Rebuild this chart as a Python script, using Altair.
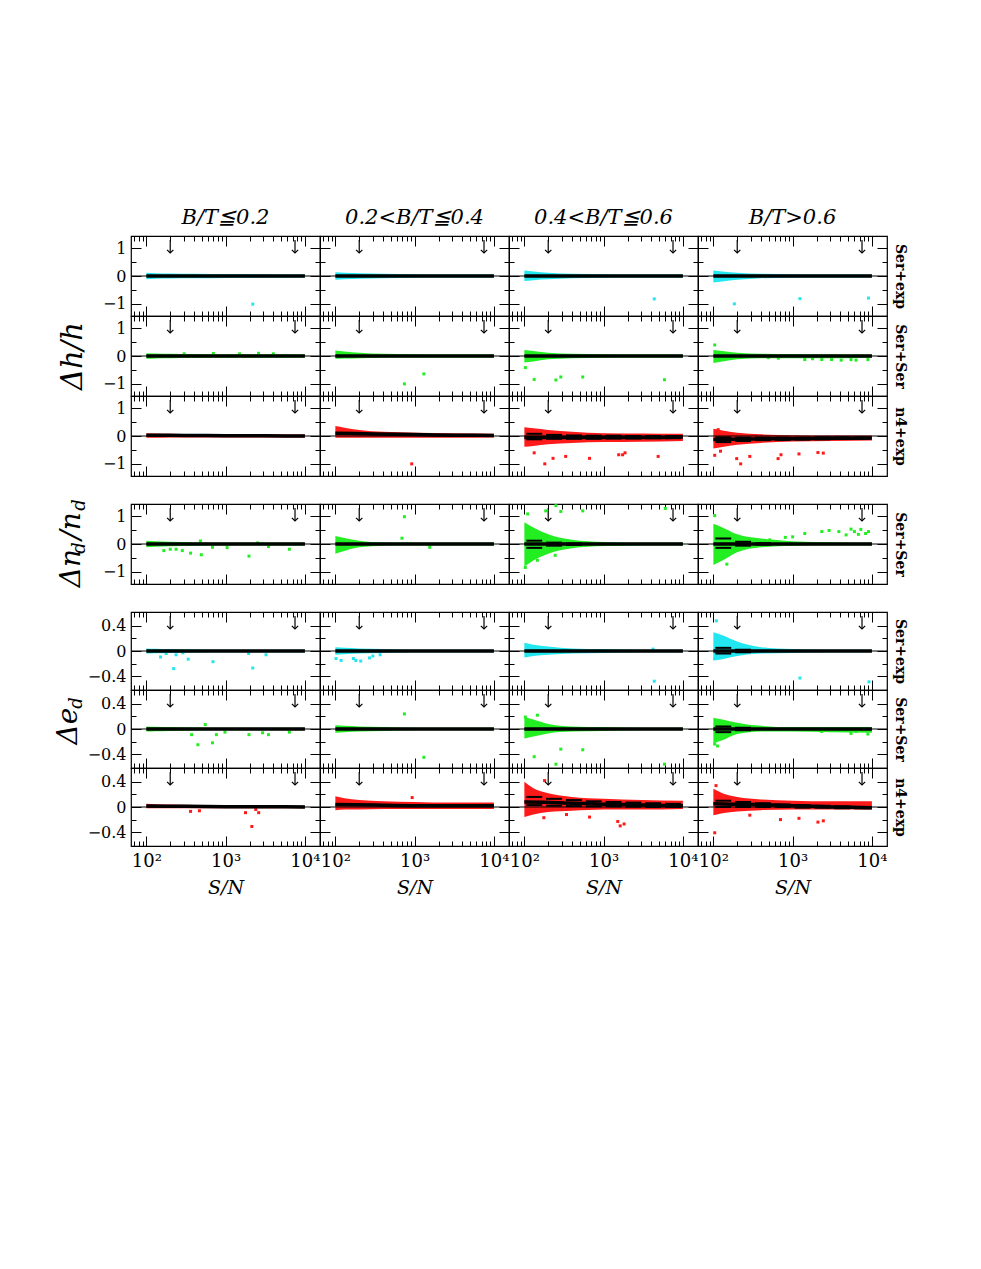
import altair as alt
import pandas as pd

SERIF = "DejaVu Serif"

# ---------------- axes / layout values ----------------
SN_DOMAIN = [64, 15500]
SN_MAJOR = [100, 1000, 10000]
SN_MINOR = [70, 80, 90, 200, 300, 400, 500, 600, 700, 800, 900,
            2000, 3000, 4000, 5000, 6000, 7000, 8000, 9000]
X_TICK_LABELS = ["10²", "10³", "10⁴"]
ARROW_SN = [200, 7500]

DH_DOMAIN = [-1.45, 1.45]
DH_MAJOR = [-1, 0, 1]
DH_MINOR = [-0.5, 0.5]
DE_DOMAIN = [-0.62, 0.62]
DE_MAJOR = [-0.4, 0, 0.4]
DE_MINOR = [-0.2, 0.2]

COL_TITLES = ["B/T≦0.2", "0.2<B/T≦0.4", "0.4<B/T≦0.6", "B/T>0.6"]
ROW_LABELS = ["Ser+exp", "Ser+Ser", "n4+exp", "Ser+Ser", "Ser+exp", "Ser+Ser", "n4+exp"]
CYAN, GREEN, RED = "#22e6f0", "#22ee22", "#ff1a1a"

# envelope of the dense point cloud, sampled at these S/N
BAND_SN = [100, 130, 200, 400, 1000, 3000, 10000]
# running median sampled at these S/N
MED_SN = [100, 178, 316, 562, 1000, 1778, 3162, 5623, 10000]
# S/N bins for the percentile segments
BIN_START = [106, 188, 335, 596, 1060, 1885, 3350, 5960]
BIN_END = [168, 299, 531, 944, 1680, 2985, 5310, 9440]

ZERO_MED = [0, 0, 0, 0, 0, 0, 0, 0, 0]

# ---------- row 1 : Delta h / h , Ser+exp ----------
DH_SEREXP_HI = [[0.12, 0.10, 0.09, 0.08, 0.07, 0.06, 0.05],
                [0.14, 0.12, 0.10, 0.08, 0.06, 0.05, 0.05],
                [0.20, 0.16, 0.12, 0.08, 0.06, 0.05, 0.05],
                [0.20, 0.16, 0.12, 0.08, 0.06, 0.05, 0.05]]
DH_SEREXP_LO = [[-0.12, -0.10, -0.09, -0.08, -0.07, -0.06, -0.05],
                [-0.14, -0.12, -0.10, -0.08, -0.06, -0.05, -0.05],
                [-0.18, -0.15, -0.12, -0.08, -0.06, -0.05, -0.05],
                [-0.24, -0.20, -0.14, -0.08, -0.06, -0.05, -0.05]]
DH_SEREXP_MED = [ZERO_MED, ZERO_MED, ZERO_MED, ZERO_MED]
DH_SEREXP_SPHI = [[], [], [], []]
DH_SEREXP_SPLO = [[], [], [], []]
DH_SEREXP_OSN = [[2200], [], [4350], [184, 1236, 9060]]
DH_SEREXP_OVAL = [[-1.02], [], [-0.83], [-1.01, -0.82, -0.80]]

# ---------- row 2 : Delta h / h , Ser+Ser ----------
DH_SERSER_HI = [[0.10, 0.09, 0.08, 0.07, 0.06, 0.06, 0.05],
                [0.20, 0.16, 0.12, 0.08, 0.06, 0.05, 0.05],
                [0.22, 0.18, 0.12, 0.08, 0.06, 0.05, 0.05],
                [0.22, 0.18, 0.12, 0.08, 0.07, 0.06, 0.05]]
DH_SERSER_LO = [[-0.10, -0.09, -0.08, -0.07, -0.06, -0.06, -0.05],
                [-0.10, -0.09, -0.08, -0.06, -0.05, -0.05, -0.05],
                [-0.24, -0.20, -0.12, -0.08, -0.06, -0.05, -0.05],
                [-0.25, -0.20, -0.12, -0.08, -0.08, -0.08, -0.06]]
DH_SERSER_MED = [ZERO_MED, ZERO_MED, ZERO_MED, ZERO_MED]
DH_SERSER_SPHI = [[], [], [], []]
DH_SERSER_SPLO = [[], [], [], []]
DH_SERSER_OSN = [[300, 700, 1500, 2600, 4000],
                 [1308, 743],
                 [103, 133, 250, 288, 545, 5850],
                 [104, 493, 660, 1423, 1780, 2333, 3100, 4100, 5450, 6300, 8900]]
DH_SERSER_OVAL = [[0.08, 0.09, 0.08, 0.10, 0.08],
                  [-0.65, -1.01],
                  [-0.42, -0.85, -0.87, -0.76, -0.76, -0.86],
                  [0.40, -0.06, -0.08, -0.13, -0.10, -0.13, -0.13, -0.15, -0.13, -0.15, -0.13]]

# ---------- row 3 : Delta h / h , n4+exp ----------
DH_N4EXP_HI = [[0.10, 0.09, 0.08, 0.07, 0.06, 0.05, 0.05],
               [0.36, 0.30, 0.22, 0.15, 0.12, 0.10, 0.08],
               [0.32, 0.28, 0.22, 0.15, 0.10, 0.09, 0.08],
               [0.26, 0.20, 0.12, 0.06, 0.03, 0.02, 0.02]]
DH_N4EXP_LO = [[-0.06, -0.06, -0.05, -0.05, -0.05, -0.05, -0.05],
               [-0.06, -0.06, -0.06, -0.06, -0.06, -0.06, -0.05],
               [-0.39, -0.36, -0.30, -0.25, -0.22, -0.21, -0.18],
               [-0.45, -0.40, -0.32, -0.25, -0.20, -0.18, -0.16]]
DH_N4EXP_MED = [[0.03, 0.03, 0.02, 0.02, 0.01, 0.01, 0.01, 0.0, 0.0],
                [0.10, 0.09, 0.07, 0.06, 0.05, 0.04, 0.03, 0.03, 0.02],
                [-0.05, -0.05, -0.05, -0.05, -0.05, -0.05, -0.05, -0.05, -0.04],
                [-0.13, -0.12, -0.11, -0.10, -0.10, -0.09, -0.08, -0.08, -0.07]]
DH_N4EXP_SPHI = [[], [],
                 [0.08, 0.04, 0.02, 0.01, 0.01, 0.0, 0.0, 0.0],
                 [-0.05, -0.06, -0.06, -0.06, -0.06, -0.05, -0.05, -0.05]]
DH_N4EXP_SPLO = [[], [],
                 [-0.12, -0.10, -0.10, -0.10, -0.09, -0.09, -0.08, -0.08],
                 [-0.22, -0.18, -0.15, -0.14, -0.13, -0.12, -0.11, -0.10]]
DH_N4EXP_OSN = [[], [919],
                [133, 181, 230, 332, 664, 1549, 1735, 1862, 4870],
                [104, 123, 197, 221, 288, 655, 713, 1202, 2085, 2436, 115]]
DH_N4EXP_OVAL = [[], [-1.01],
                 [-0.61, -1.01, -0.81, -0.74, -0.81, -0.68, -0.68, -0.61, -0.74],
                 [-0.70, -0.55, -0.82, -1.01, -0.74, -0.82, -0.68, -0.65, -0.60, -0.62, 0.23]]

# ---------- row 4 : Delta n_d / n_d , Ser+Ser ----------
DN_SERSER_HI = [[0.12, 0.10, 0.08, 0.06, 0.05, 0.05, 0.05],
                [0.29, 0.22, 0.12, 0.06, 0.05, 0.05, 0.05],
                [0.79, 0.60, 0.35, 0.15, 0.07, 0.05, 0.05],
                [0.73, 0.60, 0.35, 0.20, 0.10, 0.06, 0.05]]
DN_SERSER_LO = [[-0.12, -0.10, -0.08, -0.06, -0.05, -0.05, -0.05],
                [-0.35, -0.25, -0.12, -0.06, -0.05, -0.05, -0.05],
                [-0.82, -0.60, -0.35, -0.15, -0.07, -0.05, -0.05],
                [-0.76, -0.60, -0.30, -0.12, -0.06, -0.05, -0.05]]
DN_SERSER_MED = [ZERO_MED, ZERO_MED, ZERO_MED, ZERO_MED]
DN_SERSER_SPHI = [[], [],
                  [0.12, 0.05, 0.02, 0.0, 0.0, 0.0, 0.0, 0.0],
                  [0.20, 0.08, 0.03, 0.0, 0.0, 0.0, 0.0, 0.0]]
DN_SERSER_SPLO = [[], [],
                  [-0.14, -0.06, -0.03, 0.0, 0.0, 0.0, 0.0, 0.0],
                  [-0.14, -0.06, -0.02, 0.0, 0.0, 0.0, 0.0, 0.0]]
DN_SERSER_OSN = [[166, 200, 237, 284, 361, 480, 493, 683, 1043, 1970, 2540, 3470, 6370],
                 [743, 692, 1550],
                 [103, 110, 146, 186, 245, 250, 288, 545, 6000],
                 [104, 125, 148, 515, 809, 1000, 1423, 2333, 2884, 3828, 4730, 5450,
                  6020, 6750, 7240, 8320, 9060]]
DN_SERSER_OVAL = [[-0.24, -0.19, -0.19, -0.24, -0.33, 0.11, -0.39, -0.12, -0.13, -0.44, 0.04, -0.09, -0.19],
                  [0.99, 0.21, -0.12],
                  [-0.85, 1.09, -0.59, 1.20, -0.41, 1.39, 1.18, 1.20, 1.29],
                  [1.03, -0.53, -0.73, 0.15, 0.24, 0.26, 0.38, 0.45, 0.49, 0.45, 0.33, 0.54,
                   0.45, 0.35, 0.53, 0.38, 0.45]]

# ---------- row 5 : Delta e_d , Ser+exp ----------
DE_SEREXP_HI = [[0.04, 0.035, 0.03, 0.025, 0.02, 0.02, 0.02],
                [0.06, 0.05, 0.04, 0.03, 0.02, 0.02, 0.02],
                [0.13, 0.10, 0.07, 0.04, 0.03, 0.02, 0.02],
                [0.30, 0.25, 0.15, 0.06, 0.03, 0.02, 0.02]]
DE_SEREXP_LO = [[-0.04, -0.035, -0.03, -0.025, -0.02, -0.02, -0.02],
                [-0.06, -0.05, -0.04, -0.03, -0.02, -0.02, -0.02],
                [-0.105, -0.08, -0.06, -0.04, -0.03, -0.02, -0.02],
                [-0.15, -0.13, -0.08, -0.04, -0.03, -0.02, -0.02]]
DE_SEREXP_MED = [ZERO_MED, ZERO_MED, ZERO_MED, ZERO_MED]
DE_SEREXP_SPHI = [[], [], [],
                  [0.05, 0.02, 0.0, 0.0, 0.0, 0.0, 0.0, 0.0]]
DE_SEREXP_SPLO = [[], [], [],
                  [-0.04, -0.02, 0.0, 0.0, 0.0, 0.0, 0.0, 0.0]]
DE_SEREXP_OSN = [[151, 178, 221, 237, 288, 337, 692, 1950, 2200, 3230],
                 [102, 118, 169, 181, 209, 269, 297, 367],
                 [4350, 4200],
                 [109, 104, 113, 120, 140, 1236, 9190]]
DE_SEREXP_OVAL = [[-0.095, -0.04, -0.28, -0.06, -0.03, -0.13, -0.17, -0.04, -0.27, -0.06],
                  [-0.12, -0.15, -0.12, -0.15, -0.16, -0.11, -0.08, -0.06],
                  [-0.48, 0.03],
                  [0.48, -0.12, 0.25, 0.17, 0.20, -0.43, -0.49]]

# ---------- row 6 : Delta e_d , Ser+Ser ----------
DE_SERSER_HI = [[0.04, 0.035, 0.03, 0.025, 0.02, 0.02, 0.02],
                [0.06, 0.05, 0.04, 0.03, 0.02, 0.02, 0.02],
                [0.19, 0.15, 0.08, 0.04, 0.03, 0.02, 0.02],
                [0.18, 0.15, 0.10, 0.05, 0.03, 0.03, 0.03]]
DE_SERSER_LO = [[-0.04, -0.035, -0.03, -0.025, -0.02, -0.02, -0.02],
                [-0.06, -0.05, -0.04, -0.03, -0.02, -0.02, -0.02],
                [-0.15, -0.12, -0.07, -0.04, -0.03, -0.02, -0.02],
                [-0.23, -0.18, -0.08, -0.04, -0.04, -0.05, -0.06]]
DE_SERSER_MED = [ZERO_MED, ZERO_MED, ZERO_MED, ZERO_MED]
DE_SERSER_SPHI = [[], [], [],
                  [0.04, 0.02, 0.0, 0.0, 0.0, 0.0, 0.0, 0.0]]
DE_SERSER_SPLO = [[], [], [],
                  [-0.05, -0.02, 0.0, 0.0, 0.0, 0.0, 0.0, 0.0]]
DE_SERSER_OSN = [[372, 447, 553, 683, 764, 980, 1970, 2925, 3470, 6370],
                 [743, 1308],
                 [103, 133, 146, 250, 288, 545, 5850],
                 [104, 113, 2333, 5450, 6300, 8900]]
DE_SERSER_OVAL = [[-0.09, -0.25, 0.07, -0.22, -0.09, -0.05, -0.09, -0.06, -0.09, -0.05],
                  [0.24, -0.45],
                  [0.19, -0.44, 0.22, -0.56, -0.32, -0.33, -0.56],
                  [-0.24, -0.27, -0.04, -0.07, -0.04, -0.08]]

# ---------- row 7 : Delta e_d , n4+exp ----------
DE_N4EXP_HI = [[0.05, 0.045, 0.04, 0.03, 0.025, 0.02, 0.02],
               [0.17, 0.14, 0.11, 0.09, 0.08, 0.07, 0.07],
               [0.40, 0.30, 0.22, 0.16, 0.13, 0.11, 0.10],
               [0.29, 0.22, 0.16, 0.12, 0.10, 0.09, 0.09]]
DE_N4EXP_LO = [[-0.02, -0.02, -0.02, -0.02, -0.02, -0.02, -0.02],
               [-0.05, -0.04, -0.04, -0.03, -0.03, -0.03, -0.03],
               [-0.16, -0.12, -0.08, -0.06, -0.04, -0.04, -0.03],
               [-0.13, -0.10, -0.07, -0.05, -0.04, -0.04, -0.04]]
DE_N4EXP_MED = [[0.015, 0.012, 0.01, 0.008, 0.005, 0.005, 0.003, 0.002, 0.0],
                [0.04, 0.035, 0.03, 0.025, 0.02, 0.02, 0.02, 0.02, 0.02],
                [0.08, 0.075, 0.065, 0.055, 0.045, 0.04, 0.03, 0.025, 0.02],
                [0.05, 0.045, 0.04, 0.03, 0.02, 0.01, 0.0, -0.005, -0.01]]
DE_N4EXP_SPHI = [[], [],
                 [0.16, 0.13, 0.11, 0.09, 0.08, 0.07, 0.06, 0.05],
                 [0.10, 0.08, 0.06, 0.04, 0.03, 0.02, 0.01, 0.0]]
DE_N4EXP_SPLO = [[], [],
                 [0.03, 0.02, 0.015, 0.01, 0.01, 0.005, 0.0, 0.0],
                 [0.0, 0.0, 0.0, 0.0, -0.01, -0.01, -0.02, -0.02]]
DE_N4EXP_OSN = [[361, 467, 1780, 2140, 2612, 2400],
                [931],
                [176, 180, 340, 664, 1507, 1618, 1811],
                [104, 108, 288, 703, 1202, 2085, 2436]]
DE_N4EXP_OVAL = [[-0.07, -0.06, -0.09, -0.31, -0.09, -0.04],
                 [0.15],
                 [-0.17, 0.42, -0.12, -0.16, -0.23, -0.30, -0.27],
                 [-0.41, 0.34, -0.13, -0.20, -0.18, -0.24, -0.22]]

Y_TITLES = ["Δh/h", "Δn", "d", "/n", "d", "Δe", "d"]

ROWS = [
    (DH_SEREXP_HI, DH_SEREXP_LO, DH_SEREXP_MED, DH_SEREXP_SPHI, DH_SEREXP_SPLO, DH_SEREXP_OSN, DH_SEREXP_OVAL, CYAN, "h"),
    (DH_SERSER_HI, DH_SERSER_LO, DH_SERSER_MED, DH_SERSER_SPHI, DH_SERSER_SPLO, DH_SERSER_OSN, DH_SERSER_OVAL, GREEN, "h"),
    (DH_N4EXP_HI, DH_N4EXP_LO, DH_N4EXP_MED, DH_N4EXP_SPHI, DH_N4EXP_SPLO, DH_N4EXP_OSN, DH_N4EXP_OVAL, RED, "h"),
    (DN_SERSER_HI, DN_SERSER_LO, DN_SERSER_MED, DN_SERSER_SPHI, DN_SERSER_SPLO, DN_SERSER_OSN, DN_SERSER_OVAL, GREEN, "h"),
    (DE_SEREXP_HI, DE_SEREXP_LO, DE_SEREXP_MED, DE_SEREXP_SPHI, DE_SEREXP_SPLO, DE_SEREXP_OSN, DE_SEREXP_OVAL, CYAN, "e"),
    (DE_SERSER_HI, DE_SERSER_LO, DE_SERSER_MED, DE_SERSER_SPHI, DE_SERSER_SPLO, DE_SERSER_OSN, DE_SERSER_OVAL, GREEN, "e"),
    (DE_N4EXP_HI, DE_N4EXP_LO, DE_N4EXP_MED, DE_N4EXP_SPHI, DE_N4EXP_SPLO, DE_N4EXP_OSN, DE_N4EXP_OVAL, RED, "e"),
]
ROW_HEIGHTS = [80, 80, 80, 80, 78, 78, 78]
GAP_H = 28
PANEL_W = 189

XLABEL_EXPR = ("datum.value == %d ? '%s' : datum.value == %d ? '%s' : '%s'"
               % (SN_MAJOR[0], X_TICK_LABELS[0], SN_MAJOR[1], X_TICK_LABELS[1], X_TICK_LABELS[2]))


def x_axis(orient, values, size, labels=False, title=""):
    return alt.Axis(orient=orient, values=values, tickSize=size, offset=-size,
                    domain=False, grid=False, labels=labels, labelFlush=False,
                    labelOverlap=False, labelExpr=XLABEL_EXPR, labelFont=SERIF,
                    labelFontSize=18, labelColor="black", labelPadding=6,
                    tickColor="black", tickWidth=1, title=title, titleFont=SERIF,
                    titleFontSize=19, titleFontStyle="italic", titleFontWeight="normal",
                    titleColor="black", titlePadding=8)


def y_axis(orient, values, size, labels=False, title=""):
    return alt.Axis(orient=orient, values=values, tickSize=size, offset=-size,
                    domain=False, grid=False, labels=labels, labelFlush=False,
                    labelOverlap=False, format="~g", labelFont=SERIF, labelFontSize=16,
                    labelColor="black", labelPadding=5, tickColor="black", tickWidth=1,
                    title=title, titleFont=SERIF, titleFontSize=14,
                    titleFontWeight="bold", titleColor="black", titleAngle=90,
                    titlePadding=5)


def title_layers(r, h):
    layers = []
    specs = []
    if r == 1:
        specs = [(Y_TITLES[0], -58, h / 2, 29)]
    elif r == 3:
        specs = [(Y_TITLES[1], -59, 64, 28), (Y_TITLES[2], -51, 44, 18),
                 (Y_TITLES[3], -59, 22, 28), (Y_TITLES[4], -51, 1, 18)]
    elif r == 5:
        specs = [(Y_TITLES[5], -62, 36, 28), (Y_TITLES[6], -54, 13, 18)]
    for txt, x, y, fs in specs:
        layers.append(
            alt.Chart(pd.DataFrame({"t": [txt]})).mark_text(
                font=SERIF, fontStyle="italic", fontSize=fs, angle=270,
                align="center", baseline="middle", color="black")
            .encode(text="t:N", x=alt.value(x), y=alt.value(y))
        )
    return layers


def panel(r, c):
    HI, LO, MED, SPHI, SPLO, OSN, OVAL, color, kind = ROWS[r]
    h = ROW_HEIGHTS[r]
    ydom, ymaj, ymin = (DH_DOMAIN, DH_MAJOR, DH_MINOR) if kind == "h" else (DE_DOMAIN, DE_MAJOR, DE_MINOR)
    xs = alt.Scale(type="log", domain=SN_DOMAIN, nice=False)
    ys = alt.Scale(domain=ydom, nice=False, zero=False)
    bottom = r == 6

    band = pd.DataFrame({"sn": BAND_SN, "hi": HI[c], "lo": LO[c]})
    med = pd.DataFrame({"sn": MED_SN, "v": MED[c]})
    pts = pd.DataFrame({"sn": OSN[c], "v": OVAL[c]})
    if SPHI[c]:
        sp = pd.DataFrame({"x": BIN_START + BIN_START, "x2": BIN_END + BIN_END,
                           "y": SPHI[c] + SPLO[c]})
    else:
        sp = pd.DataFrame({"x": [], "x2": [], "y": []})
    arrows = pd.DataFrame({"sn": ARROW_SN})
    zero = pd.DataFrame({"y": [0]})

    l_band = alt.Chart(band).mark_area(color=color, opacity=1, interpolate="monotone").encode(
        x=alt.X("sn:Q", scale=xs, axis=x_axis("bottom", SN_MAJOR, 10, labels=bottom,
                                               title="S/N" if bottom else "")),
        y=alt.Y("hi:Q", scale=ys, axis=y_axis("left", ymin, 5)),
        y2="lo:Q")
    l_pts = alt.Chart(pts).mark_square(color=color, size=9, opacity=1).encode(
        x=alt.X("sn:Q", scale=xs, axis=None),
        y=alt.Y("v:Q", scale=ys, axis=None))
    l_zero = alt.Chart(zero).mark_rule(color="black", strokeWidth=1).encode(
        y=alt.Y("y:Q", scale=ys, axis=y_axis("left", ymaj, 10, labels=(c == 0))))
    l_med = alt.Chart(med).mark_line(color="black", strokeWidth=3.5).encode(
        x=alt.X("sn:Q", scale=xs, axis=x_axis("bottom", SN_MINOR, 5)),
        y=alt.Y("v:Q", scale=ys, axis=y_axis("right", ymaj, 10,
                                             title=ROW_LABELS[r] if c == 3 else "")))
    l_sp = alt.Chart(sp).mark_rule(color="black", strokeWidth=2).encode(
        x=alt.X("x:Q", scale=xs, axis=None), x2="x2:Q",
        y=alt.Y("y:Q", scale=ys, axis=None))
    l_shaft = alt.Chart(arrows).mark_rule(color="black", strokeWidth=1.2).encode(
        x=alt.X("sn:Q", scale=xs, axis=x_axis("top", SN_MAJOR, 10)),
        y=alt.value(4), y2=alt.value(17))
    l_head = alt.Chart(arrows).mark_point(
        shape="M-1,-1L0,0L1,-1", filled=False, color="black", size=40,
        strokeWidth=1.2, opacity=1).encode(
        x=alt.X("sn:Q", scale=xs, axis=None), y=alt.value(17))
    l_help = alt.Chart(med).mark_line(opacity=0).encode(
        x=alt.X("sn:Q", scale=xs, axis=x_axis("top", SN_MINOR, 5)),
        y=alt.Y("v:Q", scale=ys, axis=y_axis("right", ymin, 5)))

    layers = [l_band, l_pts, l_zero, l_med, l_sp, l_shaft, l_head, l_help]
    if c == 0:
        layers += title_layers(r, h)
    ch = alt.layer(*layers).resolve_axis(x="independent", y="independent").properties(
        width=PANEL_W, height=h)
    if r == 0:
        ch = ch.properties(title=alt.TitleParams(
            text=COL_TITLES[c], font=SERIF, fontSize=21, fontStyle="italic",
            fontWeight="normal", anchor="middle", offset=8, color="black"))
    return ch


def spacer():
    return alt.Chart(pd.DataFrame({"a": [0]})).mark_point(opacity=0).encode(
        x=alt.value(0), y=alt.value(0)).properties(
        width=PANEL_W, height=GAP_H, view=alt.ViewBackground(strokeOpacity=0))


cells = []
for r in range(7):
    if r in (3, 4):
        cells += [spacer() for _ in range(4)]
    cells += [panel(r, c) for c in range(4)]

chart = alt.concat(*cells, columns=4, spacing=0, bounds="flush", align="each").properties(
    padding={"left": 46, "top": 197, "right": 40, "bottom": 300},
    background="white",
).configure_view(stroke="black", strokeWidth=1.2)

chart.save("out.html", embed_options={"renderer": "svg", "actions": False})
